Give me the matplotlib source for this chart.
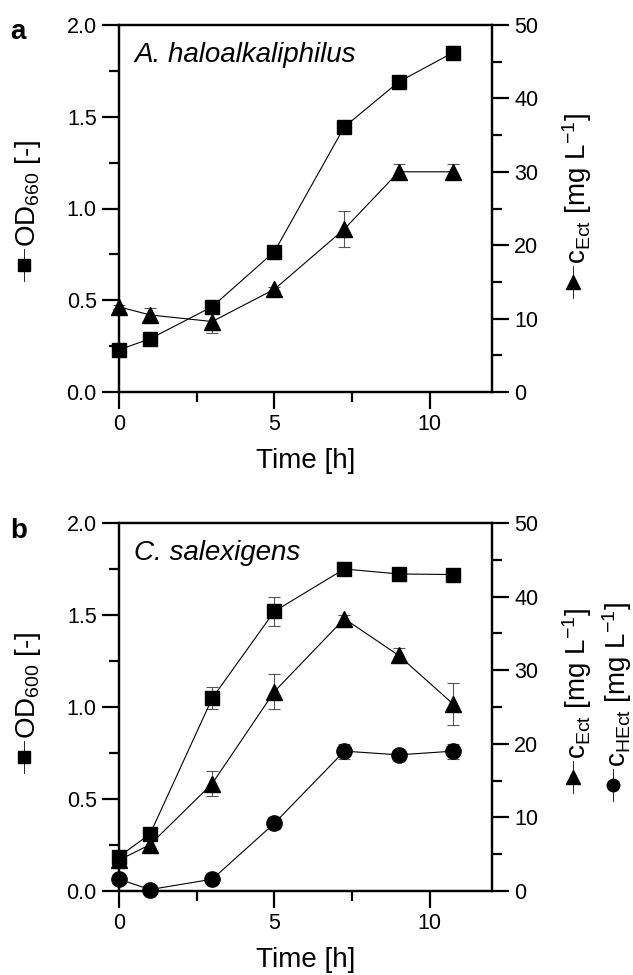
import matplotlib.pyplot as plt
from matplotlib.lines import Line2D
from matplotlib.ticker import MultipleLocator

plt.rcParams['font.family'] = ['Liberation Sans', 'DejaVu Sans']
plt.rcParams['mathtext.fontset'] = 'custom'
plt.rcParams['mathtext.rm'] = 'Liberation Sans'
plt.rcParams['mathtext.it'] = 'Liberation Sans:italic'

# Panel a: A. haloalkaliphilus
time_a = [0, 1, 3, 5, 7.25, 9, 10.75]
od660 = [0.23, 0.29, 0.465, 0.765, 1.445, 1.69, 1.85]
od660_err = [0.01, 0.01, 0.02, 0.02, 0.02, 0.02, 0.035]
ect_a = [11.6, 10.5, 9.6, 14.0, 22.2, 30.0, 30.0]
ect_a_err = [0.3, 1.0, 1.5, 0.3, 2.4, 1.0, 1.0]

# Panel b: C. salexigens
time_b = [0, 1, 3, 5, 7.25, 9, 10.75]
od600 = [0.187, 0.31, 1.048, 1.52, 1.75, 1.723, 1.72]
od600_err = [0.01, 0.02, 0.06, 0.08, 0.02, 0.02, 0.02]
ect_b = [4.2, 6.3, 14.6, 27.1, 37.0, 32.0, 25.4]
ect_b_err = [0.3, 0.6, 1.7, 2.4, 0.5, 1.0, 2.8]
hect_b = [1.6, 0.2, 1.6, 9.2, 19.0, 18.5, 19.0]
hect_b_err = [0.2, 0.2, 0.2, 0.8, 1.0, 0.7, 1.0]

W, H = 633, 975
fig = plt.figure(figsize=(W / 100, H / 100), dpi=100)


def px(x, y):
    return x / W, 1 - y / H


def series(ax, t, y, err, marker, ms):
    ax.errorbar(t, y, yerr=err, fmt='none', ecolor='#555555', elinewidth=0.8,
                capsize=4, capthick=0.8, zorder=2, clip_on=False)
    ax.plot(t, y, color='black', lw=0.8, marker=marker, ms=ms, mfc='black',
            mec='black', zorder=3, clip_on=False)


def style(ax, ax2):
    ax.set_xlim(0, 12)
    ax.set_ylim(0, 2.0)
    ax2.set_ylim(0, 50)
    ax.xaxis.set_major_locator(MultipleLocator(5))
    ax.xaxis.set_minor_locator(MultipleLocator(2.5))
    ax.yaxis.set_major_locator(MultipleLocator(0.5))
    ax.yaxis.set_minor_locator(MultipleLocator(0.25))
    ax2.yaxis.set_major_locator(MultipleLocator(10))
    ax2.yaxis.set_minor_locator(MultipleLocator(5))
    ax.yaxis.set_major_formatter(lambda v, p: f'{v:.1f}')
    for a in (ax, ax2):
        for s in a.spines.values():
            s.set_linewidth(1.6)
        a.tick_params(which='major', direction='out', length=12, width=1.6,
                      labelsize=15.5, pad=4)
        a.tick_params(which='minor', direction='out', length=7, width=1.6)
    ax.set_xlabel('Time [h]', fontsize=20, labelpad=9)
    ax.set_zorder(ax2.get_zorder() + 1)
    ax.patch.set_visible(False)


def side_label(x, y, text, marker, ms):
    fx, fy = px(x, y)
    _, fy0 = px(x, y + 16)
    _, fy1 = px(x, y - 16)
    fig.add_artist(Line2D([fx, fx], [fy0, fy1], transform=fig.transFigure,
                          color='black', lw=0.6))
    fig.add_artist(Line2D([fx], [fy], transform=fig.transFigure, marker=marker,
                          ms=ms, color='black', lw=0))
    tx, ty = px(x + 4, y - 18)
    fig.text(tx, ty, text, rotation=90, ha='center', va='bottom', fontsize=20)


# panel a
l, b = px(119, 392)
r, t = px(492, 25)
ax_a = fig.add_axes([l, b, r - l, t - b])
ax_a2 = ax_a.twinx()
series(ax_a2, time_a, ect_a, ect_a_err, '^', 12)
series(ax_a, time_a, od660, od660_err, 's', 10)
style(ax_a, ax_a2)
ax_a.text(0.04, 0.955, 'A. haloalkaliphilus', transform=ax_a.transAxes,
          fontsize=20, style='italic', va='top')
fig.text(*px(10, 39), 'a', fontsize=20, fontweight='bold')
side_label(24, 265, 'OD$_{660}$ [-]', 's', 8)
side_label(573, 282, 'c$_{\\rm Ect}$ [mg L$^{-1}$]', '^', 10)

# panel b
l, b = px(119, 891)
r, t = px(492, 523)
ax_b = fig.add_axes([l, b, r - l, t - b])
ax_b2 = ax_b.twinx()
series(ax_b2, time_b, ect_b, ect_b_err, '^', 12)
series(ax_b2, time_b, hect_b, hect_b_err, 'o', 11)
series(ax_b, time_b, od600, od600_err, 's', 10)
style(ax_b, ax_b2)
ax_b.text(0.04, 0.955, 'C. salexigens', transform=ax_b.transAxes,
          fontsize=20, style='italic', va='top')
fig.text(*px(10, 538), 'b', fontsize=20, fontweight='bold')
side_label(24, 757, 'OD$_{600}$ [-]', 's', 8)
side_label(573, 777, 'c$_{\\rm Ect}$ [mg L$^{-1}$]', '^', 10)
side_label(613, 785, 'c$_{\\rm HEct}$ [mg L$^{-1}$]', 'o', 9)

fig.savefig('out.png', dpi=100)
